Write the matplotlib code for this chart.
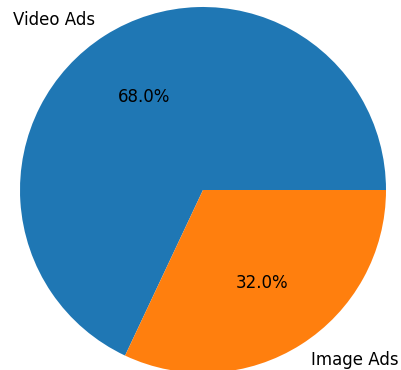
import matplotlib
matplotlib.use('Agg')
import matplotlib.pyplot as plt

# ad format split
labels = ['Video Ads', 'Image Ads']
shares = [68, 32]

W, H = 401, 370
fig = plt.figure(figsize=(W / 100, H / 100), dpi=100, facecolor='white')

# pie centre (px from left/top) and radius in px
cx, cy, r = 203, 190, 183
side = 2.5 * r  # pie axes span -1.25..1.25
ax = fig.add_axes([(cx - side / 2) / W, (H - cy - side / 2) / H, side / W, side / H])

ax.pie(shares, labels=labels, autopct='%1.1f%%', colors=['#1f77b4', '#ff7f0e'],
       textprops={'fontsize': 12})
ax.set_xlim(-1.25, 1.25)
ax.set_ylim(-1.25, 1.25)

fig.savefig('out.png', dpi=100, facecolor='white')
